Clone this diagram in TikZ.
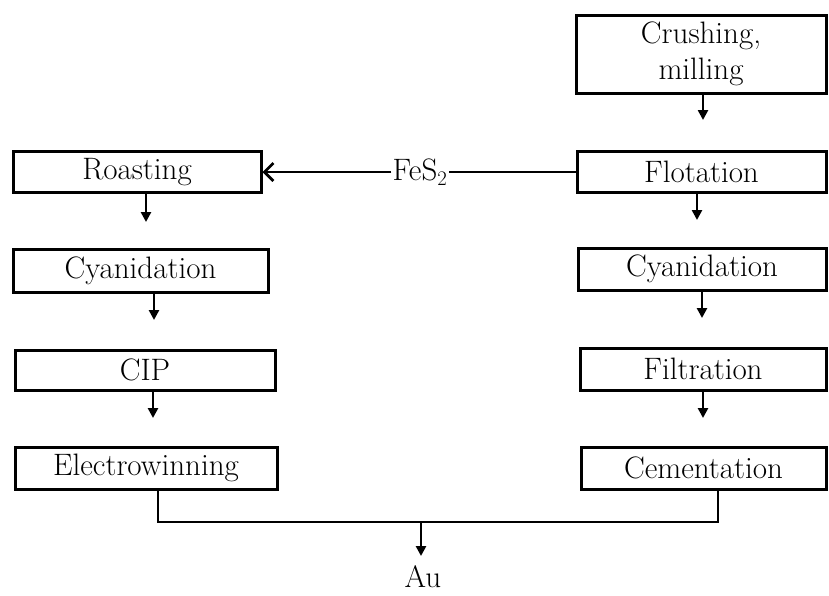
\documentclass[tikz,border=0pt]{standalone}
\usetikzlibrary{arrows.meta}
\begin{document}
\begin{tikzpicture}[x=1pt,y=-1pt,
  box/.style={draw,line width=3pt,inner sep=0pt,font=\fontsize{31}{36}\selectfont},
  lbl/.style={inner sep=1pt,font=\fontsize{31}{36}\selectfont},
  conn/.style={line width=2.6pt},
  arr/.style={line width=2.6pt,-{Triangle[length=10pt,width=10pt]}},
  barb/.style={line width=2.6pt,-{Straight Barb[length=9pt,width=18pt,line width=2.8pt]}}]
\useasboundingbox[fill=white] (0,0) rectangle (829,595);
% right column
\node[box,minimum width=250pt,minimum height=78pt,align=center] (crush) at (701,54) {Crushing,\\milling};
\node[box,minimum width=249pt,minimum height=41pt] (flot) at (701.5,171.5) {Flotation};
\node[box,minimum width=248pt,minimum height=42pt] (cyanR) at (702,269) {Cyanidation};
\node[box,minimum width=246pt,minimum height=42pt] (filt) at (703,369) {Filtration};
\node[box,minimum width=245pt,minimum height=42pt] (cem) at (703.5,468) {Cementation};
% left column
\node[box,minimum width=248pt,minimum height=41pt] (roast) at (137,172) {Roasting};
\node[box,minimum width=255pt,minimum height=43pt] (cyanL) at (140.5,270.5) {Cyanidation};
\node[box,minimum width=260pt,minimum height=40pt] (cip) at (145,370) {CIP};
\node[box,minimum width=262pt,minimum height=42pt] (elec) at (146,468) {Electrowinning};
% labels
\node[lbl] (fes) at (420,172) {FeS$_2$};
\node[lbl] (au) at (423,577) {Au};
% free ends
\coordinate (e1) at (703,120);
\coordinate (e2) at (697,220);
\coordinate (e3) at (702,318);
\coordinate (e4) at (703,418);
\coordinate (e5) at (146,222);
\coordinate (e6) at (154,320);
\coordinate (e7) at (153,418);
\coordinate (j1) at (158,522);
\coordinate (j2) at (718,522);
\coordinate (j3) at (421,522);
\coordinate (e8) at (421,556);
\coordinate (h) at (0,172);
% connectors
\draw[arr] (crush.south -| e1) -- (e1);
\draw[arr] (flot.south -| e2) -- (e2);
\draw[arr] (cyanR.south -| e3) -- (e3);
\draw[arr] (filt.south -| e4) -- (e4);
\draw[arr] (roast.south -| e5) -- (e5);
\draw[arr] (cyanL.south -| e6) -- (e6);
\draw[arr] (cip.south -| e7) -- (e7);
\draw[conn] (elec.south -| j1) -- (j1) -- (j2) -- (cem.south -| j2);
\draw[arr] (j3) -- (e8);
\draw[conn] (flot.west |- h) -- (fes.east |- h);
\draw[barb] (fes.west |- h) -- (roast.east |- h);
\end{tikzpicture}
\end{document}
